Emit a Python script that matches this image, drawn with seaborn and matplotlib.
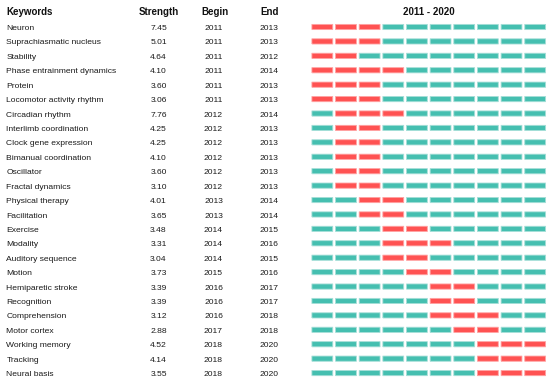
import matplotlib
matplotlib.use('Agg')
import matplotlib.pyplot as plt
import pandas as pd
import seaborn as sns

# keyword burst table
keywords = ['Neuron', 'Suprachiasmatic nucleus', 'Stability',
            'Phase entrainment dynamics', 'Protein', 'Locomotor activity rhythm',
            'Circadian rhythm', 'Interlimb coordination', 'Clock gene expression',
            'Bimanual coordination', 'Oscillator', 'Fractal dynamics',
            'Physical therapy', 'Facilitation', 'Exercise', 'Modality',
            'Auditory sequence', 'Motion', 'Hemiparetic stroke', 'Recognition',
            'Comprehension', 'Motor cortex', 'Working memory', 'Tracking',
            'Neural basis']
strength = [7.45, 5.01, 4.64, 4.10, 3.60, 3.06, 7.76, 4.25, 4.25, 4.10, 3.60,
            3.10, 4.01, 3.65, 3.48, 3.31, 3.04, 3.73, 3.39, 3.39, 3.12, 2.88,
            4.52, 4.14, 3.55]
begin = [2011, 2011, 2011, 2011, 2011, 2011, 2012, 2012, 2012, 2012, 2012,
         2012, 2013, 2013, 2014, 2014, 2014, 2015, 2016, 2016, 2016, 2017,
         2018, 2018, 2018]
end = [2013, 2013, 2012, 2014, 2013, 2013, 2014, 2013, 2013, 2013, 2013,
       2013, 2014, 2014, 2015, 2016, 2015, 2016, 2017, 2017, 2018, 2018,
       2020, 2020, 2020]
years = list(range(2011, 2021))

RED = '#FF5252'
TEAL = '#45BFB0'

# long table: one cell per keyword and year
rows = []
for i, (b, e) in enumerate(zip(begin, end)):
    for yr in years:
        rows.append({'row': i, 'year': yr,
                     'state': 'burst' if b <= yr <= e else 'none'})
cells = pd.DataFrame(rows)

sns.set_style('white')
plt.rcParams['font.family'] = ['Liberation Sans', 'DejaVu Sans']

fig = plt.figure(figsize=(5.5, 3.8), dpi=100)
n = len(keywords)
ylim = (24.48, -1.872)   # row index, top row at pixel ~27
head_y = -1.08

# text table
ax_t = fig.add_axes([0, 0, 1, 1])
ax_t.set_xlim(0, 550)
ax_t.set_ylim(*ylim)
ax_t.axis('off')
hdr = dict(fontsize=7, fontweight='bold', va='center_baseline', color='#111111')
ax_t.text(6.5, head_y, 'Keywords', ha='left', **hdr)
ax_t.text(159, head_y, 'Strength', ha='center', **hdr)
ax_t.text(215.5, head_y, 'Begin', ha='center', **hdr)
ax_t.text(269.5, head_y, 'End', ha='center', **hdr)
body = dict(fontsize=6.1, va='center_baseline', color='#1a1a1a')
for i in range(n):
    y = i + 0.04
    ax_t.text(6.5, y, keywords[i], ha='left', **body)
    ax_t.text(158.5, y, f'{strength[i]:.2f}', ha='center', **body)
    ax_t.text(213.5, y, str(begin[i]), ha='center', **body)
    ax_t.text(269, y, str(end[i]), ha='center', **body)

# burst bars
ax_b = fig.add_axes([310.5 / 550, 0, 236.5 / 550, 1])
ax_b.patch.set_alpha(0)
bar_marker = [(-1, -0.25), (1, -0.25), (1, 0.25), (-1, 0.25), (-1, -0.25)]
edge = cells['state'].map({'burst': '#FFA3A3', 'none': '#A6DFD8'})
sns.scatterplot(data=cells, x='year', y='row', hue='state',
                palette={'burst': RED, 'none': TEAL}, marker=bar_marker,
                s=225, linewidth=0.6, edgecolor=edge, snap=False,
                legend=False, ax=ax_b)
ax_b.set_xlim(2010.5, 2020.5)
ax_b.set_ylim(*ylim)
ax_b.axis('off')
ax_b.text(2015.5, head_y, f'{years[0]} - {years[-1]}', ha='center', **hdr)

fig.savefig('out.png', dpi=100)
